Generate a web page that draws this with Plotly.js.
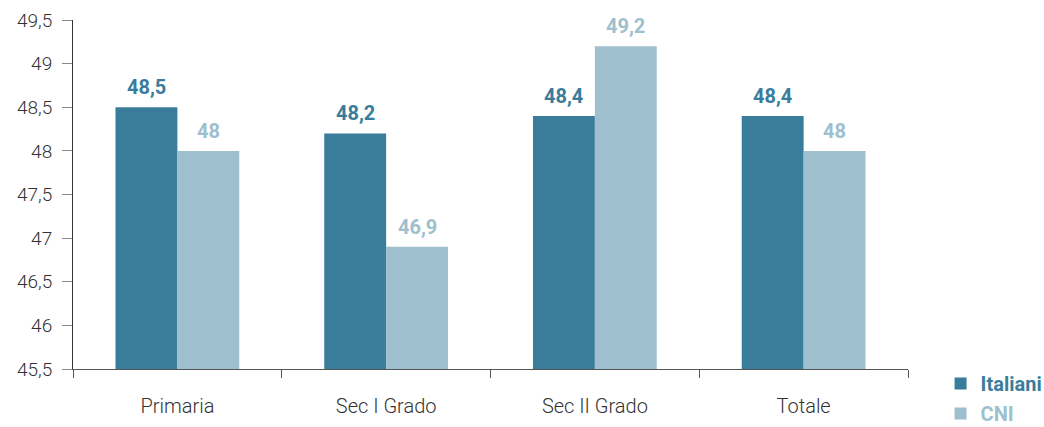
<!DOCTYPE html>
<html><head><meta charset="utf-8">
<script src="https://cdn.plot.ly/plotly-3.0.1.min.js"></script>
<style>body{margin:0;background:#fff}#c{width:1044px;height:427px}</style>
</head><body><div id="c"></div>
<script>
const categories = ['Primaria', 'Sec I Grado', 'Sec II Grado', 'Totale'];
const italiani = [48.5, 48.2, 48.4, 48.4];
const cni = [48.0, 46.9, 49.2, 48.0];
const yTicks = [45.5, 46, 46.5, 47, 47.5, 48, 48.5, 49, 49.5];

const dark = '#3a7d9b';
const light = '#9dbfce';
const fmt = v => String(v).replace('.', ',');

const W = 1044, H = 427;
const margin = {l:73, r:136, t:20, b:58, autoexpand:false};
const bargap = 0.407;
const plotW = W - margin.l - margin.r;
const barW = plotW / categories.length * (1 - bargap) / 2;

const traces = [
  {type:'bar', x:categories, y:italiani, name:'<span style="color:'+dark+'"><b>Italiani</b></span>',
   marker:{color:dark}, hoverinfo:'none', legendgroup:'a'},
  {type:'bar', x:categories, y:cni, name:'<span style="color:'+light+'"><b>CNI</b></span>',
   marker:{color:light}, hoverinfo:'none', legendgroup:'b'}
];

const annotations = [];
[[italiani, dark, -1], [cni, light, 1]].forEach(([vals, col, side]) => {
  vals.forEach((v, i) => annotations.push({
    x: categories[i], y: v, xref:'x', yref:'y', text:'<b>' + fmt(v) + '</b>', showarrow:false,
    xshift: side * barW / 2, yanchor:'bottom', yshift: 6,
    font:{family:'Roboto', size:20, color:col}
  }));
});

const layout = {
  width:W, height:H,
  margin: margin,
  separators:',.',
  barmode:'group', bargap:bargap, bargroupgap:0,
  paper_bgcolor:'#fff', plot_bgcolor:'#fff',
  font:{family:'Roboto', color:'#333'},
  showlegend:true,
  legend:{x:1.039, y:0.014, xanchor:'left', yanchor:'top', font:{family:'Roboto', size:20},
          tracegroupgap:1, itemwidth:30},
  annotations: annotations,
  xaxis:{showline:true, linecolor:'#555', linewidth:1, ticks:'outside', tickson:'boundaries',
         ticklen:8, tickcolor:'#555', automargin:false, ticklabelstandoff:19,
         tickfont:{family:'Roboto', size:20, color:'#333', weight:300}, showgrid:false},
  yaxis:{range:[45.5, 49.5], tickvals:yTicks, ticktext:yTicks.map(fmt), showline:true, linecolor:'#333', linewidth:1,
         ticks:'outside', ticklen:10, tickcolor:'#888', showgrid:false, zeroline:false, automargin:false,
         ticklabelstandoff:6,
         tickfont:{family:'Roboto', size:19, color:'#333', weight:300}}
};
Plotly.newPlot('c', traces, layout, {displayModeBar:false, staticPlot:true});
</script></body></html>
